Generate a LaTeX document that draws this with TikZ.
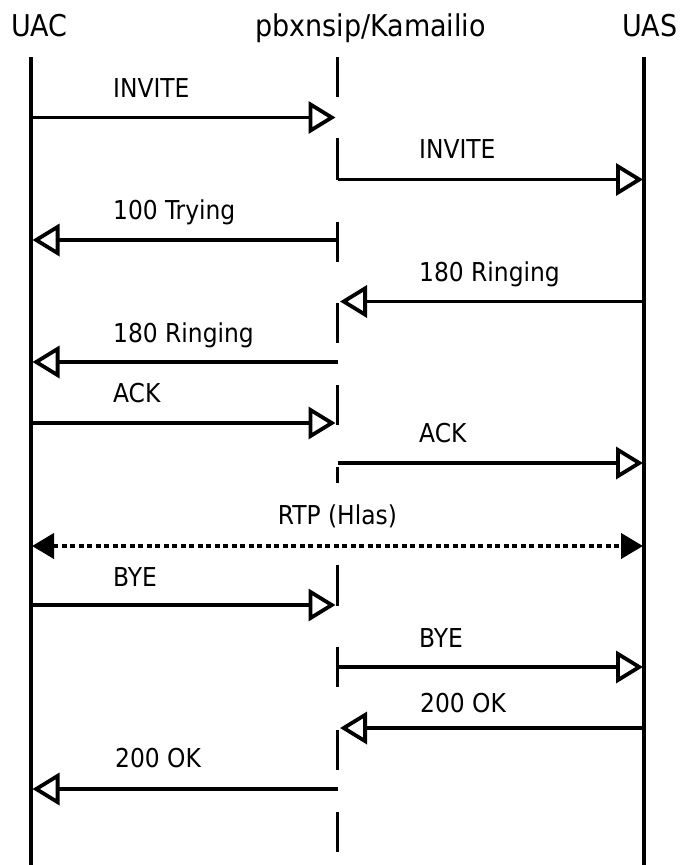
\documentclass[tikz,border=0pt]{standalone}
\usepackage{fontspec}
\setmainfont{DejaVu Sans Condensed}
\usetikzlibrary{arrows.meta}
\begin{document}
\begin{tikzpicture}[x=1pt,y=-1pt,
  life/.style={line width=3.6pt},
  msg/.style={line width=3.8pt,-{Triangle[open,length=27pt,width=32pt,line width=3.8pt]}},
  rtp/.style={line width=4pt,dash pattern=on 5pt off 3.5pt,
    {Triangle[length=22pt,width=25pt]}-{Triangle[length=22pt,width=25pt]}},
  title/.style={anchor=base west,inner sep=0pt,font=\fontsize{30}{34}\selectfont},
  lbl/.style={anchor=base west,inner sep=0pt,font=\fontsize{26}{30}\selectfont}]
\useasboundingbox[fill=white] (0,0) rectangle (683,865);
% titles
\node[title] (uac) at (11,36) {UAC};
\node[title] (pbx) at (255,36) {pbxnsip/Kamailio};
\node[title] (uas) at (622,36) {UAS};
% lifelines
\coordinate (uacTop) at (31,57);
\coordinate (uacBot) at (31,865);
\coordinate (uasTop) at (644,57);
\coordinate (uasBot) at (644,865);
\draw[life] (uacTop) -- (uacBot);
\draw[life] (uasTop) -- (uasBot);
\foreach \a/\b in {57/97,138/180,222/262,303/343,385/425,467/483,565/606,647/687,730/770,812/852}
  \draw[life] (337.5,\a) -- (337.5,\b);
% messages
\foreach \i/\xa/\xb/\y in {1/31/335.5/117.5, 2/337.5/643/179.5, 3/337.5/32.5/240,
    4/644/340/301.5, 5/337.5/32.5/362, 6/31/335.5/423, 7/337.5/643/463,
    9/31/335.5/605, 10/337.5/643/667, 11/644/340/728, 12/337.5/32.5/789}{
  \coordinate (m\i s) at (\xa,\y);
  \coordinate (m\i e) at (\xb,\y);
  \draw[msg] (m\i s) -- (m\i e);
}
\coordinate (m8s) at (32,546);
\coordinate (m8e) at (643,546);
\draw[rtp] (m8s) -- (m8e);
% labels
\node[lbl] (l1) at (113,97) {INVITE};
\node[lbl] (l2) at (419,158) {INVITE};
\node[lbl] (l3) at (113,219) {100 Trying};
\node[lbl] (l4) at (419,281) {180 Ringing};
\node[lbl] (l5) at (113,342) {180 Ringing};
\node[lbl] (l6) at (113,402) {ACK};
\node[lbl] (l7) at (419,442) {ACK};
\node[anchor=base,inner sep=0pt,font=\fontsize{26}{30}\selectfont] (l8) at (337.5,524) {RTP (Hlas)};
\node[lbl] (l9) at (113,586) {BYE};
\node[lbl] (l10) at (419,647) {BYE};
\node[lbl] (l11) at (420,712) {200 OK};
\node[lbl] (l12) at (115,767) {200 OK};
\end{tikzpicture}
\end{document}
